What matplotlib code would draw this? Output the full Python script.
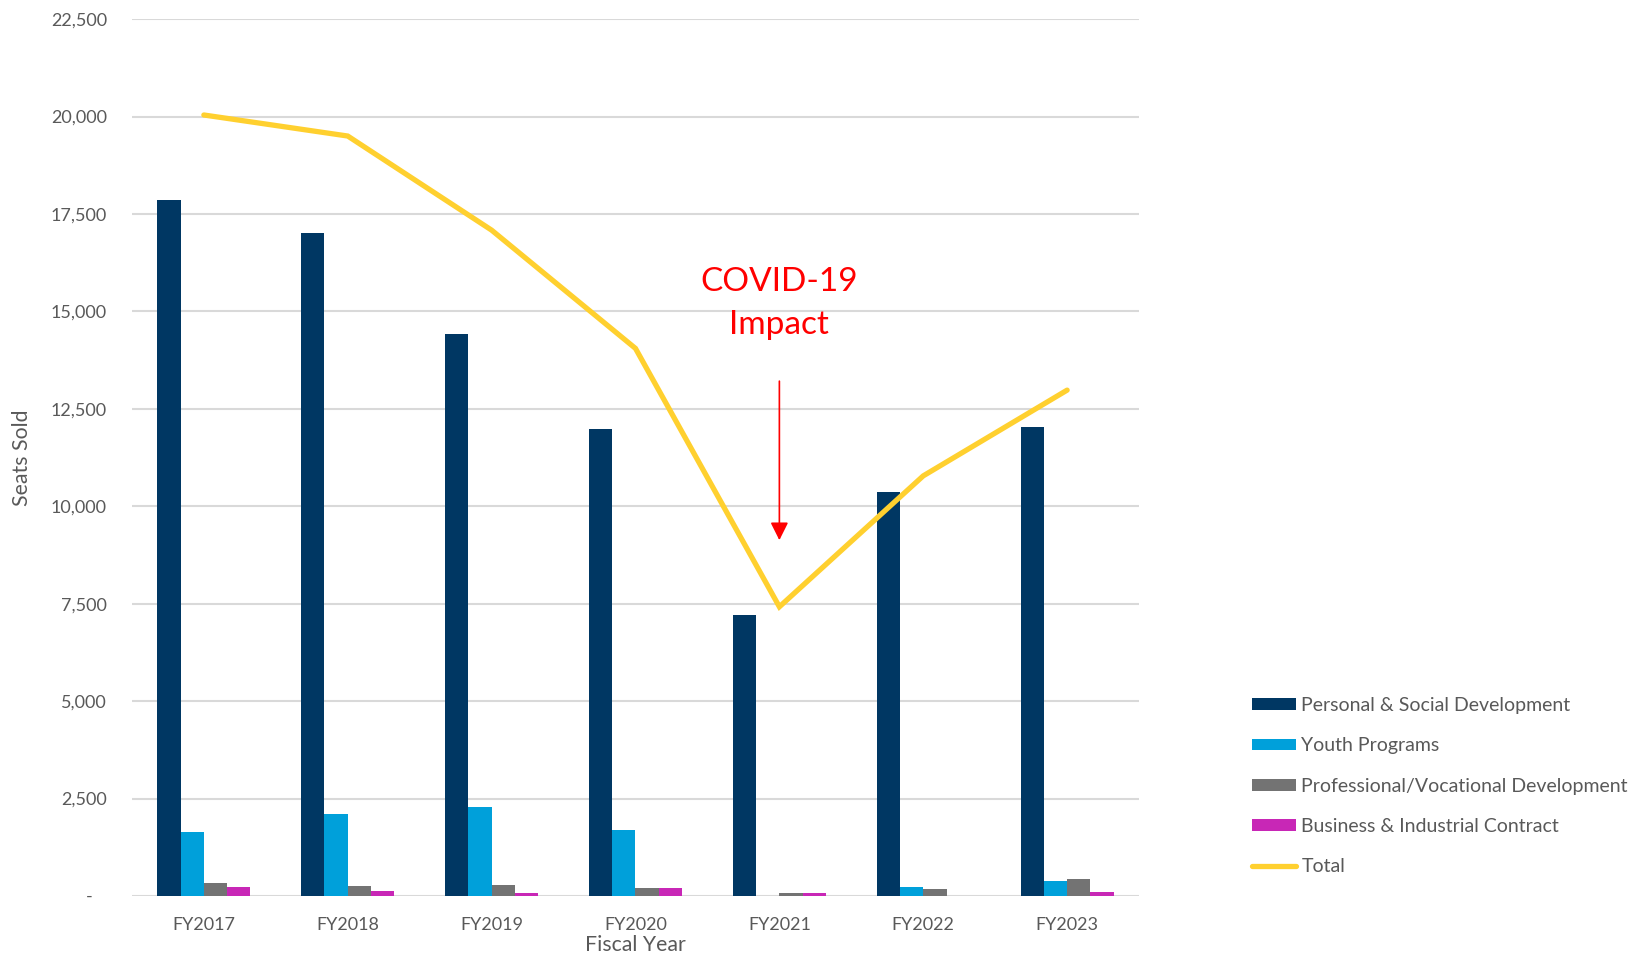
import matplotlib.pyplot as plt
import numpy as np

years = ['FY2017', 'FY2018', 'FY2019', 'FY2020', 'FY2021', 'FY2022', 'FY2023']
personal = [17855, 17015, 14415, 11995, 7215, 10360, 12040]
youth = [1635, 2105, 2275, 1695, 0, 225, 395]
professional = [330, 250, 280, 200, 70, 170, 430]
business = [225, 135, 75, 195, 75, 0, 105]
total = [20040, 19500, 17085, 14050, 7420, 10780, 12980]

series = [
    ('Personal & Social Development', personal, '#003763'),
    ('Youth Programs', youth, '#00A0DA'),
    ('Professional/Vocational Development', professional, '#737373'),
    ('Business & Industrial Contract', business, '#C827B6'),
]

plt.rcParams['font.family'] = ['Lato', 'DejaVu Sans']
grey_text = '#595959'

fig = plt.figure(figsize=(16.47, 9.56), dpi=100)
ax = fig.add_axes([0.0801, 0.0628, 0.6115, 0.9172])

x = np.arange(len(years))
width = 0.162
for i, (name, vals, color) in enumerate(series):
    ax.bar(x + (i - 1.5) * width, vals, width, color=color, label=name, zorder=2)

ax.plot(x, total, color='#FFD02F', lw=3.8, solid_capstyle='round',
        solid_joinstyle='miter', label='Total', zorder=3)

ax.set_xlim(-0.5, len(years) - 0.5)
ax.set_ylim(0, 22500)
yticks = np.arange(0, 22501, 2500)
ax.set_yticks(yticks)
ax.set_yticklabels(['-   '] + [f'{v:,}' for v in yticks[1:]])
ax.set_xticks(x)
ax.set_xticklabels(years)
ax.tick_params(axis='both', length=0, labelsize=13, labelcolor=grey_text)
ax.tick_params(axis='y', pad=18)
ax.tick_params(axis='x', pad=15)
ax.grid(axis='y', color='#D9D9D9', lw=1.5, zorder=0)
for s in ax.spines.values():
    s.set_visible(False)

ax.set_xlabel('Fiscal Year', fontsize=15.3, color=grey_text, va='center')
ax.xaxis.set_label_coords(0.5, -0.0559)
ax.set_ylabel('Seats Sold', fontsize=15.3, color=grey_text, va='center')
ax.yaxis.set_label_coords(-0.109, 0.5)

# COVID-19 callout
ax.text(4, 15200, 'COVID-19\nImpact', color='red', fontsize=24,
        ha='center', va='center', linespacing=1.55)
ax.annotate('', xy=(4, 9130), xytext=(4, 13210),
            arrowprops=dict(arrowstyle='-|>', color='red', lw=1.2,
                            mutation_scale=27, shrinkA=0, shrinkB=0))

handles, labels = ax.get_legend_handles_labels()
order = [1, 2, 3, 4, 0]
leg = fig.legend([handles[i] for i in order], [labels[i] for i in order],
                 loc='upper left', bbox_to_anchor=(0.7556, 0.279),
                 frameon=False, fontsize=14, handlelength=2.27,
                 handleheight=0.55, handletextpad=0.25, labelspacing=1.2,
                 borderaxespad=0)
for t in leg.get_texts():
    t.set_color(grey_text)

fig.savefig('out.png', dpi=100)
